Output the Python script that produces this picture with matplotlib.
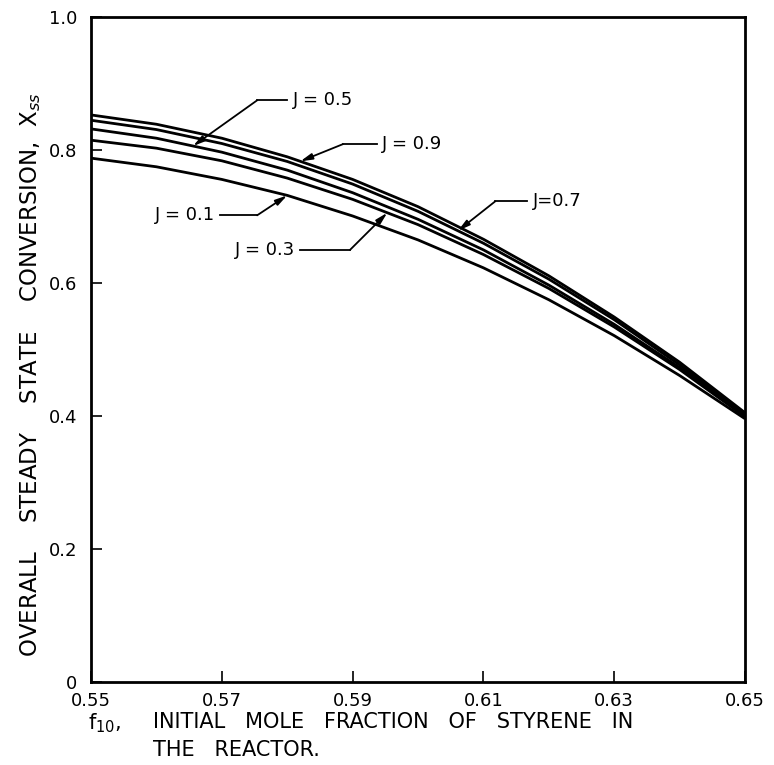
import numpy as np
import matplotlib
matplotlib.use('Agg')
from matplotlib import pyplot as plt

# f10 values and steady state conversion
f10 = [0.55, 0.56, 0.57, 0.58, 0.59, 0.60, 0.61, 0.62, 0.63, 0.64, 0.65]
x_j09 = [0.853, 0.839, 0.818, 0.790, 0.756, 0.715, 0.666, 0.611, 0.549, 0.481, 0.405]
x_j07 = [0.845, 0.831, 0.810, 0.783, 0.749, 0.708, 0.660, 0.606, 0.545, 0.477, 0.403]
x_j05 = [0.832, 0.818, 0.797, 0.770, 0.736, 0.696, 0.650, 0.597, 0.538, 0.473, 0.401]
x_j03 = [0.815, 0.803, 0.784, 0.758, 0.726, 0.688, 0.643, 0.592, 0.534, 0.470, 0.399]
x_j01 = [0.788, 0.775, 0.756, 0.732, 0.701, 0.665, 0.623, 0.575, 0.521, 0.461, 0.396]

xticks = [0.55, 0.57, 0.59, 0.61, 0.63, 0.65]
xticklabels = ['0.55', '0.57', '0.59', '0.61', '0.63', '0.65']
yticks = [0, 0.2, 0.4, 0.6, 0.8, 1.0]
yticklabels = ['0', '0.2', '0.4', '0.6', '0.8', '1.0']

plt.rcParams['font.family'] = 'DejaVu Sans'

fig = plt.figure(figsize=(7.74, 7.65), dpi=100)
ax = fig.add_axes([0.1176, 0.1085, 0.845, 0.869])

curves = [x_j09, x_j07, x_j05, x_j03, x_j01]
for c in curves:
    ax.plot(f10, c, color='black', lw=2.0, solid_capstyle='butt')

ax.set_xlim(0.55, 0.65)
ax.set_ylim(0, 1.0)
ax.set_xticks(xticks)
ax.set_xticklabels(xticklabels)
ax.set_yticks(yticks)
ax.set_yticklabels(yticklabels)
ax.tick_params(direction='in', length=8, width=1.2, labelsize=13)
ax.tick_params(axis='x', pad=7)
ax.tick_params(axis='y', pad=10)
for s in ax.spines.values():
    s.set_linewidth(2.0)

# leader labels: (text, tip f, elbow f, elbow y, line end f, side)
labels = [
    ('J = 0.5', 0.5656, 0.5754, 0.875, 0.5800, 'right'),
    ('J = 0.9', 0.5820, 0.5885, 0.809, 0.5937, 'right'),
    ('J=0.7', 0.6061, 0.6118, 0.723, 0.6167, 'right'),
    ('J = 0.1', 0.5800, 0.5754, 0.702, 0.5697, 'left'),
    ('J = 0.3', 0.5953, 0.5896, 0.650, 0.5820, 'left'),
]
curve_of = {'J = 0.5': x_j05, 'J = 0.9': x_j09, 'J=0.7': x_j07,
            'J = 0.1': x_j01, 'J = 0.3': x_j03}
for txt, tf, ef, ey, lf, side in labels:
    ty = np.interp(tf, f10, curve_of[txt])
    ax.plot([lf, ef], [ey, ey], color='black', lw=1.3)
    ax.annotate('', xy=(tf, ty), xytext=(ef, ey),
                arrowprops=dict(arrowstyle='-|>,head_length=0.7,head_width=0.18',
                                color='black', lw=1.3, shrinkA=0, shrinkB=0))
    if side == 'right':
        ax.text(lf + 0.0008, ey, txt, ha='left', va='center', fontsize=13)
    else:
        ax.text(lf - 0.0008, ey, txt, ha='right', va='center', fontsize=13)

fig.text(0.040, 0.51, 'OVERALL    STEADY    STATE    CONVERSION,  X$_{ss}$',
         rotation=90, ha='center', va='center', fontsize=16.5)
fig.text(0.114, 0.054, 'f$_{10}$,', ha='left', va='center', fontsize=15)
fig.text(0.198, 0.056, 'INITIAL   MOLE   FRACTION   OF   STYRENE   IN',
         ha='left', va='center', fontsize=15)
fig.text(0.198, 0.020, 'THE   REACTOR.', ha='left', va='center', fontsize=15)

fig.savefig('out.png', dpi=100)
